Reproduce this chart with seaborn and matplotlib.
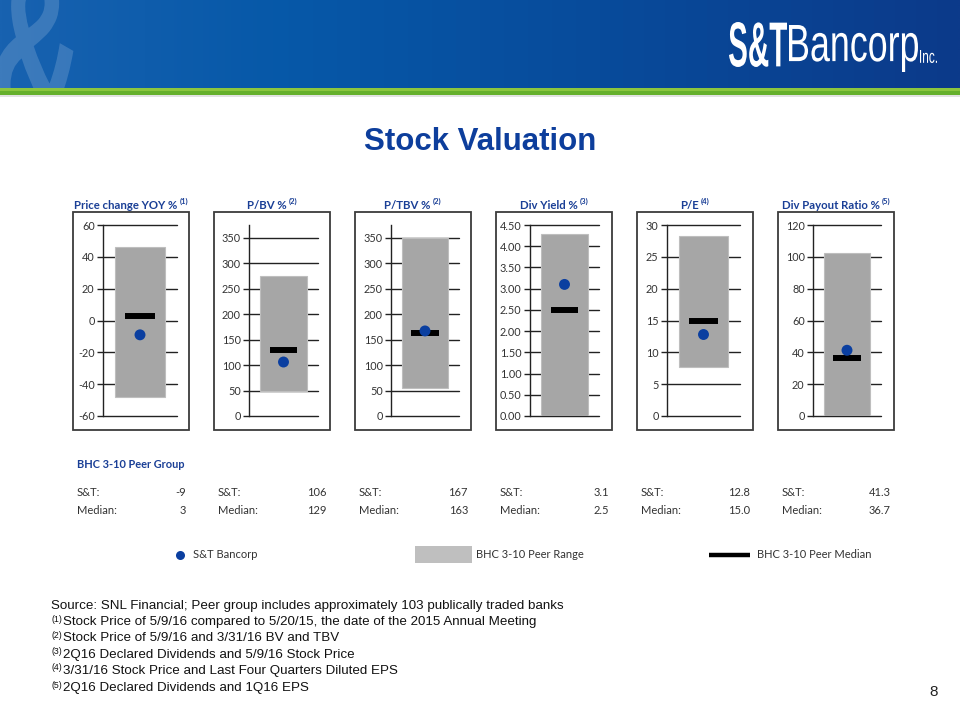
import numpy as np
import matplotlib
matplotlib.use("Agg")
import matplotlib.pyplot as plt
from matplotlib.patches import Rectangle, PathPatch
from matplotlib.textpath import TextPath
from matplotlib.font_manager import FontProperties
from matplotlib.transforms import Affine2D
import seaborn as sns

# ---------------- data ----------------
metrics = ["Price change YOY %", "P/BV %", "P/TBV %", "Div Yield %", "P/E", "Div Payout Ratio %"]
notes = ["(1)", "(2)", "(2)", "(3)", "(4)", "(5)"]
peer_low = [-48.0, 49.0, 55.0, 0.0, 7.75, 0.0]
peer_high = [46.4, 274.0, 350.0, 4.28, 28.3, 102.5]
peer_median = [3, 129, 163, 2.5, 15.0, 36.7]
st_values = [-9, 106, 167, 3.1, 12.8, 41.3]
value_fmt = ["{:.0f}", "{:.0f}", "{:.0f}", "{:.1f}", "{:.1f}", "{:.1f}"]
y_limits = [(-60, 60), (0, 375), (0, 375), (0, 4.5), (0, 30), (0, 120)]
y_ticks = [
    [-60, -40, -20, 0, 20, 40, 60],
    [0, 50, 100, 150, 200, 250, 300, 350],
    [0, 50, 100, 150, 200, 250, 300, 350],
    [0, 0.5, 1.0, 1.5, 2.0, 2.5, 3.0, 3.5, 4.0, 4.5],
    [0, 5, 10, 15, 20, 25, 30],
    [0, 20, 40, 60, 80, 100, 120],
]
tick_fmt = ["{:.0f}", "{:.0f}", "{:.0f}", "{:.2f}", "{:.0f}", "{:.0f}"]
peer_group = "BHC 3-10 Peer Group"
legend_labels = ["S&T Bancorp", "BHC 3-10 Peer Range", "BHC 3-10 Peer Median"]
footnotes = [
    ("", "Source: SNL Financial; Peer group includes approximately 103 publically traded banks"),
    ("(1)", "Stock Price of 5/9/16 compared to 5/20/15, the date of the 2015 Annual Meeting"),
    ("(2)", "Stock Price of 5/9/16 and 3/31/16 BV and TBV"),
    ("(3)", "2Q16 Declared Dividends and 5/9/16 Stock Price"),
    ("(4)", "3/31/16 Stock Price and Last Four Quarters Diluted EPS"),
    ("(5)", "2Q16 Declared Dividends and 1Q16 EPS"),
]

# ---------------- style ----------------
sns.set_theme(style="white")
plt.rcParams['font.family'] = ['Lato', 'DejaVu Sans']

BLUE_DOT = "#0B3FA0"
BLUE_TXT = "#1A3F96"
GRAY_BAR = "#A6A6A6"
LINE = "#222222"

W, H = 960, 720
fig = plt.figure(figsize=(9.6, 7.2), dpi=100)
fig.patch.set_facecolor("white")


def fx(x):
    return x / W


def fy(y):
    return 1 - y / H


deco = fig.add_axes([0, 0, 1, 1], zorder=0)
deco.set_xlim(0, W)
deco.set_ylim(H, 0)
deco.axis('off')


def fit_text(ax, s, weight, family, x0, x1, ytop, ybot, color, alpha=1.0, zorder=5):
    fp = FontProperties(family=family, weight=weight)
    tp = TextPath((0, 0), s, size=1, prop=fp)
    bb = tp.get_extents()
    sx = (x1 - x0) / bb.width
    sy = (ybot - ytop) / bb.height
    tr = Affine2D().translate(-bb.x0, -bb.y1).scale(sx, -sy).translate(x0, ytop)
    ax.add_patch(PathPatch(tr.transform_path(tp), facecolor=color, edgecolor='none',
                           alpha=alpha, zorder=zorder, clip_on=True))


# ---------------- header ----------------
hdr = fig.add_axes([0, fy(88), 1, 88 / H], zorder=1)
hdr.set_xlim(0, W)
hdr.set_ylim(88, 0)
hdr.axis('off')
stops_x = [0.0, 0.3, 0.65, 1.0]
stops_c = [(24, 98, 176), (6, 88, 168), (8, 74, 154), (12, 58, 138)]
xs = np.linspace(0, 1, 256)
grad = np.zeros((2, 256, 3))
for k in range(3):
    grad[:, :, k] = np.interp(xs, stops_x, [c[k] for c in stops_c]) / 255.0
hdr.imshow(grad, extent=(0, W, 88, 0), aspect='auto', interpolation='bilinear', zorder=0)
fit_text(hdr, "&", 'bold', ['Liberation Sans', 'DejaVu Sans'], -6, 80, -30, 130, 'white', alpha=0.16, zorder=1)
fit_text(hdr, "S&T", 'bold', ['Liberation Sans', 'DejaVu Sans'], 729, 787, 22, 67, 'white', zorder=3)
fit_text(hdr, "Bancorp", 'normal', ['Liberation Sans', 'DejaVu Sans'], 789, 918, 25, 72, 'white', zorder=3)
fit_text(hdr, "Inc.", 'normal', ['Liberation Sans', 'DejaVu Sans'], 920, 937, 50, 63, 'white', zorder=3)

deco.add_patch(Rectangle((0, 87), W, 4, color="#8CC63E", lw=0))
deco.add_patch(Rectangle((0, 91), W, 4, color="#66B02C", lw=0))
deco.add_patch(Rectangle((0, 95), W, 1.5, color="#E2E2E2", lw=0))

# ---------------- title ----------------
fig.text(fx(480), fy(150), "Stock Valuation", ha='center', va='baseline', fontsize=22.5,
         fontweight='bold', color="#0D3E9C", family=['Liberation Sans', 'DejaVu Sans'])

fig.canvas.draw()
renderer = fig.canvas.get_renderer()


def text_width(t):
    return t.get_window_extent(renderer).width


# ---------------- panels ----------------
box_left = [73, 214, 355, 496, 637, 778]
box_w, box_top, box_bot = 116, 212, 430
ax_lr = [(103, 177), (249, 318), (391, 459), (530, 599), (667, 740), (813, 881)]
ax_top, ax_bot = 225, 416

for i in range(6):
    bl = box_left[i]
    deco.add_patch(Rectangle((bl, box_top), box_w, box_bot - box_top, fill=False,
                             ec="#3C3C3C", lw=1.3))
    l, r = ax_lr[i]
    ax = fig.add_axes([fx(l), fy(ax_bot), (r - l) / W, (ax_bot - ax_top) / H], zorder=2)
    ax.set_facecolor('none')
    low, high = peer_low[i], peer_high[i]
    ax.bar(0, high - low, bottom=low, width=0.68, color=GRAY_BAR, edgecolor="#BEBEBE",
           linewidth=0.8, zorder=2)
    ax.plot([-0.2, 0.2], [peer_median[i], peer_median[i]], color='black', lw=4.3,
            solid_capstyle='butt', zorder=3)
    sns.scatterplot(x=[0], y=[st_values[i]], ax=ax, color=BLUE_DOT, s=62,
                    edgecolor='none', zorder=4, legend=False)
    ax.set_xlim(-0.5, 0.5)
    ax.set_ylim(*y_limits[i])
    ax.set_yticks(y_ticks[i])
    ax.set_yticklabels([tick_fmt[i].format(t) for t in y_ticks[i]])
    ax.set_xticks([])
    ax.set_xlabel("")
    ax.set_ylabel("")
    ax.grid(axis='y', color=LINE, lw=1.0)
    ax.grid(axis='x', visible=False)
    ax.set_axisbelow(True)
    for s in ['top', 'right', 'bottom']:
        ax.spines[s].set_visible(False)
    ax.spines['left'].set_color(LINE)
    ax.spines['left'].set_linewidth(1.0)
    ax.tick_params(axis='y', left=True, length=4, width=1.0, color=LINE, pad=2,
                   labelsize=7.8, labelcolor="#333333")
    for gl in ax.get_ygridlines():
        gl.set_clip_on(False)

    # panel title with superscript
    cx = bl + box_w / 2
    t_main = fig.text(0, 0, metrics[i], fontsize=8.2, fontweight='bold', color=BLUE_TXT)
    t_sup = fig.text(0, 0, notes[i], fontsize=5.5, fontweight='bold', color=BLUE_TXT)
    wm, ws = text_width(t_main), text_width(t_sup)
    x0 = cx - (wm + 2 + ws) / 2
    t_main.set_position((fx(x0), fy(209)))
    t_main.set_va('baseline')
    t_sup.set_position((fx(x0 + wm + 2), fy(204)))
    t_sup.set_va('baseline')

    # values table
    fig.text(fx(bl + 4), fy(493), "S&T:", va='center', fontsize=8, color="#333333")
    fig.text(fx(bl + box_w - 3), fy(493), value_fmt[i].format(st_values[i]), ha='right',
             va='center', fontsize=8, color="#333333")
    fig.text(fx(bl + 4), fy(511), "Median:", va='center', fontsize=8, color="#333333")
    fig.text(fx(bl + box_w - 3), fy(511), value_fmt[i].format(peer_median[i]), ha='right',
             va='center', fontsize=8, color="#333333")

fig.text(fx(77), fy(465), peer_group, va='center', fontsize=7.9, fontweight='bold', color=BLUE_TXT)

# ---------------- legend ----------------
deco.plot([180], [555], 'o', ms=6.5, color=BLUE_DOT, mec='none')
deco.text(193, 555, legend_labels[0], va='center', fontsize=8, color="#333333")
deco.add_patch(Rectangle((415, 546), 57, 17, color="#BFBFBF", lw=0))
deco.text(476, 555, legend_labels[1], va='center', fontsize=8, color="#333333")
deco.plot([709, 750], [555, 555], color='black', lw=3.2, solid_capstyle='butt')
deco.text(757, 555, legend_labels[2], va='center', fontsize=8, color="#333333")

# ---------------- footnotes ----------------
fn_y = [606, 622, 638, 655, 671, 688]
for (sup, txt), yy in zip(footnotes, fn_y):
    xx = 51
    if sup:
        ts = fig.text(fx(xx), fy(yy - 3), sup, va='center', fontsize=6.3, color="#111111",
                      family=['Liberation Sans', 'DejaVu Sans'])
        xx += text_width(ts) + 1.5
    fig.text(fx(xx), fy(yy), txt, va='center', fontsize=9.6, color="#111111",
             family=['Liberation Sans', 'DejaVu Sans'])

fig.text(fx(934), fy(692), "8", ha='center', va='center', fontsize=11, color="#222222",
         family=['Liberation Sans', 'DejaVu Sans'])

fig.savefig("out.png", dpi=100)
